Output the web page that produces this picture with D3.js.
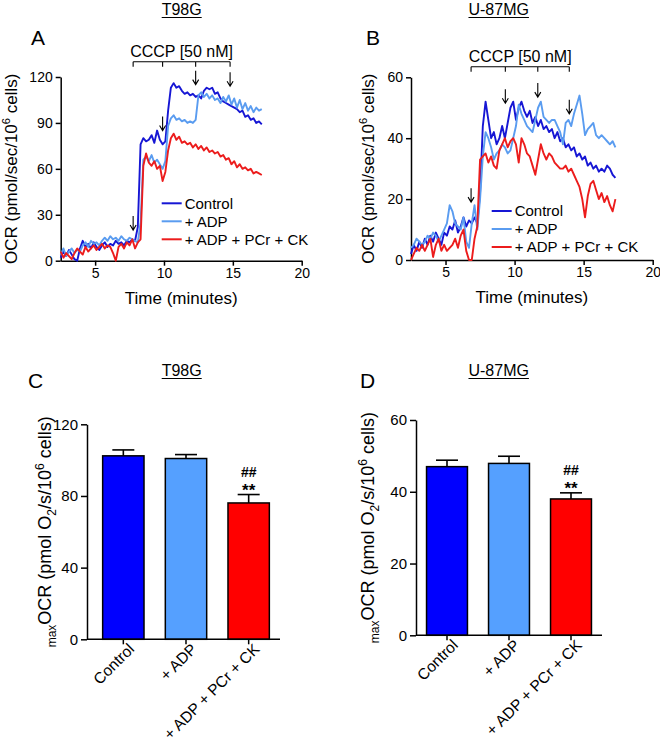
<!DOCTYPE html>
<html><head><meta charset="utf-8">
<script src="https://cdn.jsdelivr.net/npm/d3@7"></script>
<style>
body{margin:0;background:#fff}
svg{display:block;background:#fff}
text{font-family:'Liberation Sans',Arial,Helvetica,sans-serif;fill:#000}
</style>
</head><body>
<svg id="c" width="660" height="744"></svg>
<script>
// ---------- DATA ----------
const timeA = [2.5,2.7,2.9,3.1,3.3,3.5,3.7,3.9,4.1,4.3,4.5,4.7,4.9,5.1,5.3,5.5,5.7,5.9,6.1,6.3,6.5,6.7,6.9,7.1,7.3,7.5,7.7,7.9,8.1,8.3,8.5,8.7,8.9,9.1,9.3,9.5,9.7,9.9,10.1,10.3,10.5,10.7,10.9,11.1,11.3,11.5,11.7,11.9,12.1,12.3,12.5,12.7,12.9,13.1,13.3,13.5,13.7,13.9,14.1,14.3,14.5,14.7,14.9,15.1,15.3,15.5,15.7,15.9,16.1,16.3,16.5,16.7,16.9,17.1];
const controlA = [2,6,3,7,4,1,0,8,13,9, 11,8,12,9,7,10,12,9,11,10, 13,11,12,10,13,12,14,13,22,76, 80,78,79,82,77,85,79,76,78,98, 113,116,113,114,111,109,110,108,109,107, 108,106,111,113,112,113,109,110,106,104, 103,102,101,100,99,97,98,94,95,92, 93,90,91,89];
const adpA = [4,8,3,6,8,5,7,6,10,12, 9,13,11,12,10,13,15,13,16,14, 15,13,16,14,13,15,14,13,12,25, 66,68,65,69,64,66,63,60,65,88, 93,95,92,93,91,92,90,91,90,92, 108,110,107,109,106,108,105,106,103,107, 104,108,102,106,100,105,99,103,98,101, 97,100,98,99];
const ckA = [6,2,5,3,1,5,8,6,4,9, 6,8,10,7,9,11,8,10,9,5, 0,9,11,8,12,10,14,8,12,14, 62,70,64,62,65,60,62,52,58,72, 80,83,79,81,77,78,76,77,74,76, 73,75,72,74,71,72,70,71,68,69, 66,67,63,65,61,63,60,61,59,60, 57,58,57,56];

const timeB = [2.5,2.7,2.9,3.1,3.3,3.5,3.7,3.9,4.1,4.3,4.5,4.7,4.9,5.1,5.3,5.5,5.7,5.9,6.1,6.3,6.5,6.7,6.9,7.1,7.3,7.5,7.7,7.9,8.1,8.3,8.5,8.7,8.9,9.1,9.3,9.5,9.7,9.9,10.1,10.3,10.5,10.7,10.9,11.1,11.3,11.5,11.7,11.9,12.1,12.3,12.5,12.7,12.9,13.1,13.3,13.5,13.7,13.9,14.1,14.3,14.5,14.7,14.9,15.1,15.3,15.5,15.7,15.9,16.1,16.3,16.5,16.7,16.9,17.1,17.3];
const controlB = [2,5,3,6,4,7,5,8,6,9, 7,5,9,8,11,10,13,9,11,14, 11,13,12,14,12,22,44,52,46,40, 42,38,40,44,40,45,50,52,46,50, 52,49,47,49,45,47,44,46,43,44, 42,43,40,42,39,40,37,38,36,37, 34,35,33,34,31,32,30,31,29,30, 29,31,30,28,27];
const adpB = [4,5,7,6,5,6,8,7,9,8, 6,8,10,12,18,16,12,11,10,14, 6,4,12,18,10,20,34,42,40,37, 33,35,36,38,37,35,36,40,44,51, 48,46,44,43,42,46,50,52,47,46, 45,46,46,44,42,38,45,46,44,48, 51,54,48,41,43,44,45,41,40,41, 40,39,38,39,37];
const ckB = [0,2,4,3,5,3,5,7,1,5, 7,3,5,3,4,5,7,4,8,10, 3,0,0,7,11,33,34,35,32,34, 31,30,36,38,40,37,39,40,38,32, 40,38,35,34,31,28,33,38,35,33, 35,34,32,31,30,30,31,29,30,28, 26,24,20,14,21,25,26,23,20,22, 19,21,18,16,20];

const cccpA = [7.76, 9.9, 12.3, 14.8];
const arrowTipA = [20, 85, 115, 114];
const cccpB = [6.85, 9.33, 11.68, 13.96];
const arrowTipB = [19, 51.5, 53.5, 48];

const xTicks = [5, 10, 15, 20];
const yTicksA = [0, 30, 60, 90, 120];
const yTicksB = [0, 20, 40, 60];

const seriesNames = ["Control", "+ ADP", "+ ADP + PCr + CK"];
const categories = ["Control", "+ ADP", "+ ADP + PCr + CK"];
const maxOcrT98G = [102.4, 100.9, 76.1];
const semT98G = [3.3, 2.2, 4.7];
const maxOcrU87 = [47.0, 47.9, 38.0];
const semU87 = [1.8, 2.0, 1.7];
const yTicksC = [0, 40, 80, 120];
const yTicksD = [0, 20, 40, 60];
const sigHash = ["", "", "##"];
const sigStar = ["", "", "**"];

// ---------- STYLE ----------
const lineColors = ["#1616d4", "#5a9cf0", "#ec1c1c"];
const barColors = ["#0000ff", "#55a0ff", "#ff0000"];

const svg = d3.select("#c");

function styleAxis(g, fs){
  g.select(".domain").attr("stroke","#000").attr("stroke-width",1.5);
  g.selectAll(".tick line").attr("stroke","#000").attr("stroke-width",1.5);
  g.selectAll(".tick text").attr("font-size",fs).attr("fill","#000")
    .attr("font-family","'Liberation Sans',Arial,sans-serif");
}

function title(txt, cx, by){
  const t = svg.append("text").attr("x",cx).attr("y",by).attr("text-anchor","middle")
    .attr("font-size",16).text(txt);
  const w = t.node().getComputedTextLength();
  svg.append("line").attr("x1",cx-w/2).attr("x2",cx+w/2).attr("y1",by+2.5).attr("y2",by+2.5)
    .attr("stroke","#000").attr("stroke-width",1.2);
}
function letter(txt, x, by){
  svg.append("text").attr("x",x).attr("y",by).attr("font-size",21).text(txt);
}

function linePanel(o){
  const x = d3.scaleLinear().domain([2.5,20]).range([o.x0,o.x1]);
  const y = d3.scaleLinear().domain([0,o.ymax]).range([o.yb,o.yt]);
  const g = svg.append("g");
  const gx = g.append("g").attr("transform",`translate(0,${o.yb})`)
    .call(d3.axisBottom(x).tickValues(xTicks).tickSize(5).tickPadding(2).tickSizeOuter(0));
  styleAxis(gx,14);
  const gy = g.append("g").attr("transform",`translate(${o.x0},0)`)
    .call(d3.axisLeft(y).tickValues(o.yTicks).tickSize(5).tickPadding(3).tickSizeOuter(0));
  styleAxis(gy,14);

  const line = d3.line().x((d,i)=>x(o.time[i])).y(d=>y(d));
  o.series.forEach((s,k)=>{
    g.append("path").datum(s).attr("d",line).attr("fill","none")
      .attr("stroke",lineColors[k]).attr("stroke-width",1.9).attr("stroke-linejoin","round");
  });

  // arrows
  o.arrows.forEach((t,i)=>{
    const X = x(t), Y = y(o.tips[i]);
    g.append("path").attr("d",`M${X},${Y-14}V${Y}M${X-3},${Y-5}L${X},${Y}L${X+3},${Y-5}`)
      .attr("fill","none").attr("stroke","#000").attr("stroke-width",1.1);
  });
  // bracket
  const by = o.yt - o.brOff;
  const xs = o.arrows.map(x);
  let d = `M${xs[0]},${by}H${xs[xs.length-1]}`;
  xs.forEach(v=>{ d += `M${v},${by}V${by+5}`; });
  g.append("path").attr("d",d).attr("fill","none").attr("stroke","#000").attr("stroke-width",1.1);
  g.append("text").attr("x",(xs[0]+xs[xs.length-1])/2).attr("y",by-5)
    .attr("text-anchor","middle").attr("font-size",16).text("CCCP [50 nM]");

  // axis titles
  g.append("text").attr("x",(o.x0+o.x1)/2).attr("y",o.yb+43).attr("text-anchor","middle")
    .attr("font-size",17).text("Time (minutes)");
  const yl = g.append("text").attr("transform",`translate(${o.ylx},${(o.yb+o.yt)/2}) rotate(-90)`)
    .attr("text-anchor","middle").attr("font-size",17);
  yl.append("tspan").text("OCR (pmol/sec/10");
  yl.append("tspan").attr("font-size",11).attr("dy",-7).text("6");
  yl.append("tspan").attr("font-size",17).attr("dy",7).text(" cells)");

  // legend
  seriesNames.forEach((n,k)=>{
    const ly = o.legY + k*18;
    g.append("line").attr("x1",o.legX).attr("x2",o.legX+20).attr("y1",ly).attr("y2",ly)
      .attr("stroke",lineColors[k]).attr("stroke-width",2);
    g.append("text").attr("x",o.legX+23).attr("y",ly).attr("dy","0.36em")
      .attr("font-size",15).text(n);
  });
}

function barPanel(o){
  const x = d3.scaleBand().domain(categories).range([o.bx0,o.bx1]).paddingInner(0.34).paddingOuter(0.17);
  const y = d3.scaleLinear().domain([0,o.ymax]).range([o.yb,o.yt]);
  const g = svg.append("g");
  // bars
  categories.forEach((c,i)=>{
    const v = o.vals[i], e = o.errs[i];
    const cx = x(c) + x.bandwidth()/2;
    g.append("line").attr("x1",cx).attr("x2",cx).attr("y1",y(v)).attr("y2",y(v+e))
      .attr("stroke","#000").attr("stroke-width",1.6);
    g.append("line").attr("x1",cx-11).attr("x2",cx+11).attr("y1",y(v+e)).attr("y2",y(v+e))
      .attr("stroke","#000").attr("stroke-width",1.6);
    g.append("rect").attr("x",x(c)).attr("y",y(v)).attr("width",x.bandwidth()).attr("height",y(0)-y(v))
      .attr("fill",barColors[i]).attr("stroke","#000").attr("stroke-width",1.5);
    if (sigHash[i]) {
      g.append("text").attr("x",cx).attr("y",y(v+e)-18).attr("text-anchor","middle")
        .attr("font-size",14).attr("font-weight","bold").text(sigHash[i]);
      g.append("text").attr("x",cx).attr("y",y(v+e)+1).attr("text-anchor","middle")
        .attr("font-size",17).attr("font-weight","bold").text(sigStar[i]);
    }
  });
  // y axis
  const gy = g.append("g").attr("transform",`translate(${o.ax},0)`)
    .call(d3.axisLeft(y).tickValues(o.yTicks).tickSize(6).tickPadding(3).tickSizeOuter(0));
  styleAxis(gy,15);
  // x axis
  g.append("line").attr("x1",o.ax).attr("x2",o.bx1).attr("y1",o.yb).attr("y2",o.yb)
    .attr("stroke","#000").attr("stroke-width",1.5);
  categories.forEach(c=>{
    const cx = x(c) + x.bandwidth()/2;
    g.append("line").attr("x1",cx).attr("x2",cx).attr("y1",o.yb).attr("y2",o.yb+5)
      .attr("stroke","#000").attr("stroke-width",1.5);
    g.append("text").attr("transform",`translate(${cx+8},${o.yb+7}) rotate(-45)`)
      .attr("text-anchor","end").attr("dy","0.35em").attr("font-size",15.5).text(c);
  });
  // y label
  const yl = g.append("text").attr("transform",`translate(${o.ylx},${(o.yb+o.yt)/2}) rotate(-90)`)
    .attr("text-anchor","middle").attr("font-size",18);
  yl.append("tspan").attr("font-size",12).attr("dy",5).text("max");
  yl.append("tspan").attr("font-size",18).attr("dy",-5).text("OCR (pmol O");
  yl.append("tspan").attr("font-size",12).attr("dy",5).text("2");
  yl.append("tspan").attr("font-size",18).attr("dy",-5).text("/s/10");
  yl.append("tspan").attr("font-size",12).attr("dy",-7).text("6");
  yl.append("tspan").attr("font-size",18).attr("dy",7).text(" cells)");
}

// ---------- DRAW ----------
title("T98G", 181.7, 15);
title("U-87MG", 498.7, 15);
letter("A", 31, 45);
letter("B", 366, 45);

linePanel({x0:60.7, x1:301.7, yb:260.7, yt:77, ymax:120, yTicks:yTicksA, time:timeA,
  series:[controlA, adpA, ckA], arrows:cccpA, tips:arrowTipA, brOff:15.3, ylx:16.5,
  legX:161.7, legY:203.3});
linePanel({x0:411, x1:652.7, yb:260, yt:77.3, ymax:60, yTicks:yTicksB, time:timeB,
  series:[controlB, adpB, ckB], arrows:cccpB, tips:arrowTipB, brOff:10.6, ylx:373.5,
  legX:491.7, legY:211});

title("T98G", 181.7, 376);
title("U-87MG", 498.7, 376);
letter("C", 28, 388);
letter("D", 360, 388);

barPanel({ax:87, bx0:92, bx1:280, yb:639.3, yt:424.3, ymax:120, yTicks:yTicksC,
  vals:maxOcrT98G, errs:semT98G, ylx:51});
barPanel({ax:416, bx0:416, bx1:602, yb:635.3, yt:420, ymax:60, yTicks:yTicksD,
  vals:maxOcrU87, errs:semU87, ylx:374});
</script>
</body></html>
